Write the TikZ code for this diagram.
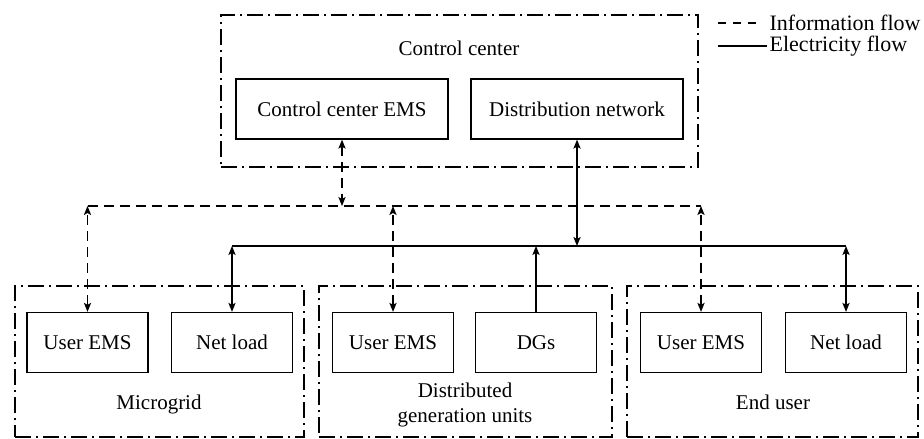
\documentclass[tikz,border=0pt]{standalone}
\usepackage{fontspec}
\setmainfont{Liberation Serif}
\usetikzlibrary{arrows.meta}
\begin{document}
\begin{tikzpicture}[x=0.5pt, y=-0.5pt,
    font=\fontsize{10.5}{12.5}\selectfont,
    >={Stealth[length=4.5pt, width=3.6pt, inset=1pt]},
    unit/.style={draw, line width=0.65pt, minimum width=60.5pt, minimum height=30pt, inner sep=0pt},
    group/.style={draw, line width=0.55pt, inner sep=0pt,
        dash pattern=on 8pt off 2.5pt on 1pt off 2.5pt},
    info/.style={line width=0.6pt, dash pattern=on 5pt off 3pt},
    power/.style={line width=0.65pt},
    keytext/.style={anchor=west, inner sep=0pt, font=\fontsize{11}{13}\selectfont}]
    \useasboundingbox (0, 0) rectangle (924, 438);
    % groups
    \node[group, minimum width=238.5pt, minimum height=76pt] (center) at(459.5, 91) {};
    \node[group, minimum width=144.5pt, minimum height=75.5pt] (mg) at(159.5, 361.5) {};
    \node[group, minimum width=146.5pt, minimum height=75.5pt] (dgu) at(465.5, 361.5) {};
    \node[group, minimum width=145.5pt, minimum height=75.5pt] (eu) at(772.5, 361.5) {};
    \node at(459, 48) {Control center};
    \node at(159, 404) {Microgrid};
    \node[align=center] at(465, 405) {Distributed\\generation units};
    \node at(773, 402) {End user};
    % units
    \node[unit, minimum width=106pt] (ccems) at(342, 109) {Control center EMS};
    \node[unit, minimum width=106pt] (dn) at(577, 109) {Distribution network};
    \node[unit] (uems1) at(87.5, 342.5) {User EMS};
    \node[unit] (nl1) at(232, 342.5) {Net load};
    \node[unit] (uems2) at(393, 342.5) {User EMS};
    \node[unit] (dg) at(536, 342.5) {DGs};
    \node[unit] (uems3) at(701, 342.5) {User EMS};
    \node[unit] (nl3) at(846, 342.5) {Net load};
    % buses
    \coordinate (ibus) at(0, 206);
    \coordinate (ebus) at(0, 246);
    \draw[info] (uems1.north |- ibus) -- (uems3.north |- ibus);
    \draw[power] (nl1.north |- ebus) -- (nl3.north |- ebus);
    \draw[info, <->] (ccems.south) -- (ccems.south |- ibus);
    \draw[info, <->] (uems1.north) -- (uems1.north |- ibus);
    \draw[info, <->] (uems2.north) -- (uems2.north |- ibus);
    \draw[info, <->] (uems3.north) -- (uems3.north |- ibus);
    \draw[power, <->] (dn.south) -- (dn.south |- ebus);
    \draw[power, <->] (nl1.north) -- (nl1.north |- ebus);
    \draw[power, ->] (dg.north) -- (dg.north |- ebus);
    \draw[power, <->] (nl3.north) -- (nl3.north |- ebus);
    % legend
    \coordinate (kinfo) at(718, 23);
    \coordinate (kpower) at(718, 46);
    \draw[line width=0.6pt, dash pattern=on 4pt off 3.5pt] (kinfo) -- ++(44, 0)
        node[keytext, xshift=3.5pt] (linfo) {Information flow};
    \draw[power] (kpower) -- ++(49, 0)
        node[keytext, xshift=1pt] (lpower) {Electricity flow};
\end{tikzpicture}
\end{document}
